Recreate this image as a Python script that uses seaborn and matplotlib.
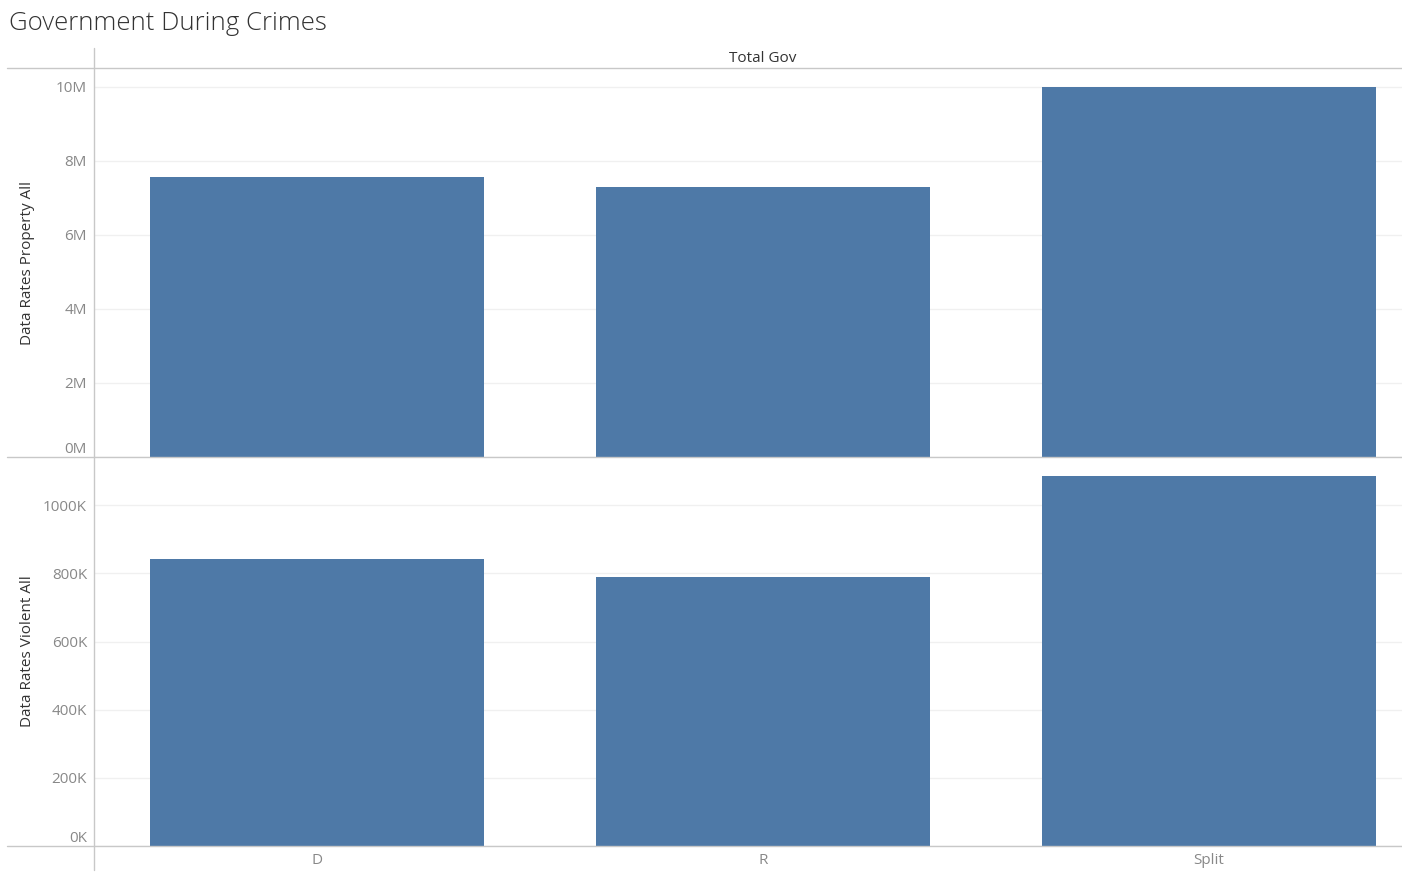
import matplotlib
matplotlib.use("Agg")
import matplotlib.pyplot as plt
import matplotlib.ticker as mticker
from matplotlib.lines import Line2D
import pandas as pd
import seaborn as sns

# values
gov = ['D', 'R', 'Split']
property_all = [7.57e6, 7.30e6, 10.0e6]
violent_all = [842e3, 789e3, 1085e3]

df = pd.DataFrame({'Total Gov': gov,
                   'Data Rates Property All': property_all,
                   'Data Rates Violent All': violent_all})

sns.set_theme(style="white")
plt.rcParams['font.family'] = ['Open Sans', 'DejaVu Sans']

W, H = 1402, 872
fig = plt.figure(figsize=(W / 100, H / 100), dpi=100)

BLUE = '#4e79a7'
LINE = '#c8c8c8'
GRID = '#f0f0f0'
TICK = '#888888'
TEXT = '#333333'

def px_box(x0, y0, x1, y1):
    return [x0 / W, 1 - y1 / H, (x1 - x0) / W, (y1 - y0) / H]

ax1 = fig.add_axes(px_box(94, 68, 1402, 457))
ax2 = fig.add_axes(px_box(94, 457, 1402, 846))

def fmt_m(v, pos):
    return '%dM' % round(v / 1e6)

def fmt_k(v, pos):
    return '%dK' % round(v / 1e3)

panels = [(ax1, 'Data Rates Property All', 10.51e6, 2e6, fmt_m, '0M'),
          (ax2, 'Data Rates Violent All', 1.142e6, 200e3, fmt_k, '0K')]

for ax, col, top, step, fmt, zero in panels:
    sns.barplot(data=df, x='Total Gov', y=col, color=BLUE, width=0.749,
                saturation=1, ax=ax, zorder=3, linewidth=0)
    ax.set_xlim(-0.5, 2.433)
    ax.set_ylim(0, top)
    ax.yaxis.set_major_locator(mticker.MultipleLocator(step))
    ax.yaxis.set_major_formatter(mticker.FuncFormatter(fmt))
    ax.grid(axis='y', color=GRID, linewidth=1, zorder=0)
    ax.set_axisbelow(True)
    for s in ax.spines.values():
        s.set_visible(False)
    ax.tick_params(axis='y', length=0, pad=5, labelsize=11, labelcolor=TICK)
    ax.set_ylabel(col, fontsize=11, color=TEXT)
    ax.yaxis.set_label_coords(-59 / 1308, 0.5)
    ax.set_xlabel('')
    # Tableau pushes the zero label up inside the pane
    fig.canvas.draw()
    for lab in ax.get_yticklabels():
        if lab.get_text() == zero:
            lab.set_verticalalignment('bottom')

ax1.set_xticks([])
ax2.tick_params(axis='x', length=0, pad=5, labelsize=11, labelcolor=TICK)

# frame lines
for y in (68, 457, 846):
    fig.add_artist(Line2D([7 / W, 1], [1 - y / H] * 2, color=LINE, lw=1))
fig.add_artist(Line2D([94 / W] * 2, [1 - 48 / H, 1 - 870 / H], color=LINE, lw=1))

fig.text(763 / W, 1 - 58 / H, 'Total Gov', ha='center', va='center',
         fontsize=11, color=TEXT)
fig.text(9 / W, 1 - 24 / H, 'Government During Crimes', ha='left', va='center',
         fontsize=18.5, color=TEXT, fontweight='light')

fig.savefig('out.png', dpi=100)
